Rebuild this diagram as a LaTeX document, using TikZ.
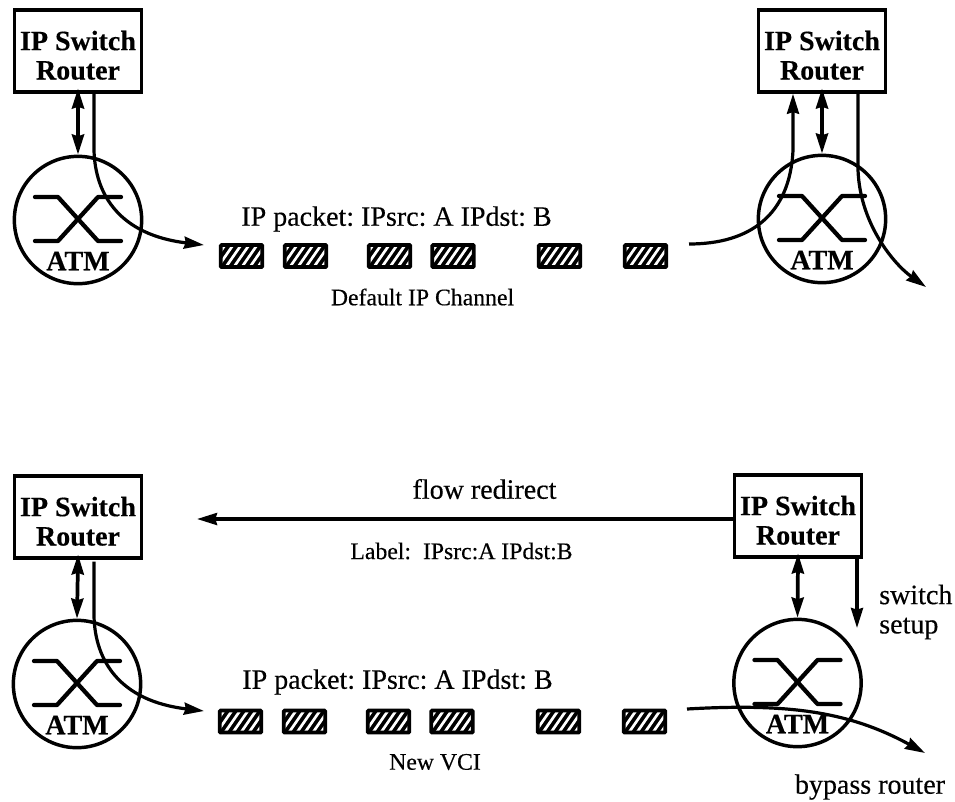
\documentclass[tikz,border=0pt]{standalone}
\usepackage{fontspec}
\setmainfont[FakeBold=0.35]{Liberation Serif}
\usetikzlibrary{arrows.meta}
\frenchspacing

\newcommand{\routername}{\rule{0pt}{21pt}IP Switch\\Router}

\begin{document}
\begin{tikzpicture}[
  x=0.75pt, y=-0.75pt,
  >={Stealth[length=15pt, width=9pt, inset=1.2pt]},
  routerbox/.style={
    draw, rectangle, line width=2.6pt,
    minimum width=95.5pt, minimum height=61.5pt, inner sep=0pt,
    align=center, font=\fontsize{21}{22}\selectfont\bfseries
  },
  atmnode/.style={
    draw, circle, line width=2.6pt, minimum size=95.5pt, inner sep=0pt
  },
  atmtext/.style={font=\fontsize{21}{22}\selectfont\bfseries, inner sep=0pt},
  packet/.style={
    draw=black, fill=black, rectangle, line width=2.8pt, rounded corners=0.6pt,
    minimum width=31pt, minimum height=16.5pt, inner sep=0pt,
    path picture={
      \foreach \s in {-32,-24,...,32} {
        \draw[white, line width=2pt]
          ([shift={(\s-9,13)}]path picture bounding box.center) --
          ([shift={(\s+9,-13)}]path picture bounding box.center);
      }
    }
  },
  bigtext/.style={font=\fontsize{21}{22}\selectfont, inner sep=0pt},
  smalltext/.style={font=\fontsize{17.8}{20}\selectfont, inner sep=0pt},
  arrow/.style={->, line width=2.4pt},
  biarrow/.style={<->, line width=2.8pt, shorten <=-4pt},
  crossline/.style={line width=3.2pt, line cap=round, line join=round}
]
\useasboundingbox (0,0) rectangle (955,801);

% --- Routers and switches ---
\node[routerbox] (boxA) at (78,51) {\routername};
\node[routerbox] (boxB) at (822,51) {\routername};
\node[routerbox] (boxC) at (78,517) {\routername};
\node[routerbox] (boxD) at (798,516) {\routername};

\node[atmnode] (atmA) at (78,220) {};
\node[atmnode] (atmB) at (822,219) {};
\node[atmnode] (atmC) at (77,684) {};
\node[atmnode] (atmD) at (797.5,683) {};

% crossing paths inside each switch, same for all four
\foreach \sw in {atmA,atmB,atmC,atmD} {
  \draw[crossline] ([shift={(-43,-23)}]\sw.center) -- ([shift={(-20,-23)}]\sw.center)
    -- ([shift={(20,21)}]\sw.center) -- ([shift={(43,21)}]\sw.center);
  \draw[crossline] ([shift={(-43,21)}]\sw.center) -- ([shift={(-20,21)}]\sw.center)
    -- ([shift={(20,-23)}]\sw.center) -- ([shift={(43,-23)}]\sw.center);
  \node[atmtext] (\sw-text) at ([shift={(0,41)}]\sw.center) {ATM};
}

\draw[biarrow] (boxA.south) -- (atmA.north);
\draw[biarrow] (boxB.south) -- (atmB.north);
\draw[biarrow] (boxC.south) -- (atmC.north);
\draw[biarrow] (boxD.south) -- (atmD.north);

% --- Packets on the two channels ---
\foreach \i/\x in {1/241.5,2/305.5,3/389.5,4/453,5/559.5,6/645.5} {
  \node[packet] (pktT\i) at (\x,256) {};
  \node[packet] (pktB\i) at (\x-1,721.5) {};
}

% --- Default IP channel ---
\node[bigtext] (pktlabelT) at (396.5,219) {IP packet: IPsrc: A IPdst: B};
\node[smalltext] (chanT) at (422.5,297) {Default IP Channel};

\coordinate (tipA) at (204,245);
\coordinate (inB)  at (689,244);
\coordinate (tipB) at (926,287);

\draw[arrow] ([shift={(16,0)}]boxA.south) -- (94,150)
  .. controls (95,195) and (120,235) .. (tipA);
\draw[arrow] (inB) .. controls (750,244) and (790,215) .. (793,150)
  -- ([shift={(-29,0)}]boxB.south);
\draw[arrow] ([shift={(36,0)}]boxB.south) -- (858,170)
  .. controls (860,225) and (895,265) .. (tipB);

% --- New VCI channel ---
\node[bigtext] (redirect) at (484.5,489) {flow redirect};
\node[smalltext] (labelinfo) at (461.5,551) {Label:\ \ IPsrc:A IPdst:B};
\node[bigtext] (pktlabelB) at (397.5,682) {IP packet: IPsrc: A IPdst: B};
\node[smalltext] (chanB) at (435,762) {New VCI};
\node[bigtext, align=left, anchor=west] (setup) at (879,612) {switch\\setup};
\node[bigtext] (bypass) at (870,787) {bypass router};

\coordinate (tipE) at (197,519);
\coordinate (tipC) at (204,711);
\coordinate (tipS) at (857,628);
\coordinate (inD)  at (687,709);
\coordinate (tipD) at (925,753);

\draw[arrow] (boxD.west |- tipE) -- (tipE);
\draw[arrow] ([shift={(16,2)}]boxC.south) -- (94,616)
  .. controls (95,661) and (120,701) .. (tipC);
\draw[arrow] (boxD.south -| tipS) -- (tipS);
\draw[arrow] (inD) .. controls (790,703) and (850,712) .. (tipD);

\end{tikzpicture}
\end{document}
